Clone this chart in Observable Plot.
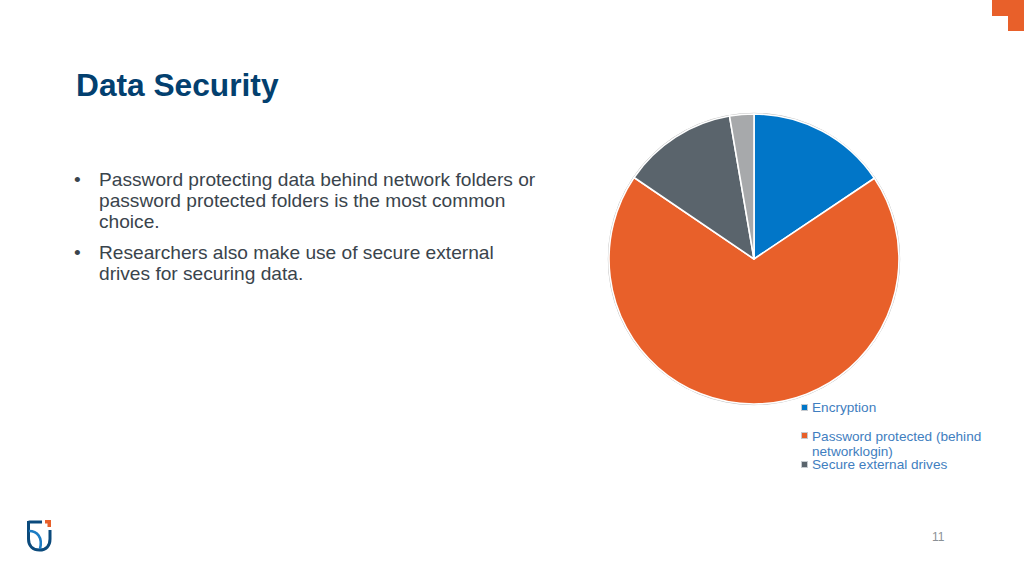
<!DOCTYPE html>
<html><head><meta charset="utf-8">
<script src="https://cdn.jsdelivr.net/npm/d3@7"></script>
<script src="https://cdn.jsdelivr.net/npm/@observablehq/plot@0.6"></script>
<style>
html,body{margin:0;padding:0;background:#fff;width:1024px;height:576px;overflow:hidden;font-family:"Liberation Sans",Arial,sans-serif}
.abs{position:absolute}
h1{position:absolute;left:76px;top:67px;margin:0;font-size:31.7px;line-height:37px;font-weight:700;color:#03406f}
.b{position:absolute;left:99px;width:460px;font-size:19.15px;line-height:21px;color:#3a444c}
.b:before{content:"•";position:absolute;left:-25px}
#plot{position:absolute;left:604px;top:109px;width:300px;height:300px}
.lg{position:absolute;left:812px;font-size:13.6px;line-height:15px;color:#3f7ec0;width:190px;white-space:pre-line}
.sw{position:absolute;left:801px;width:5px;height:5px;border:1.5px solid #c6cbd0}
</style></head><body>
<div class="abs" style="left:992px;top:0;width:32px;height:16px;background:#e8602a"></div>
<div class="abs" style="left:1008px;top:16px;width:16px;height:15px;background:#e8602a"></div>
<h1 id="title"></h1>
<div id="bullets"></div>
<div id="plot"></div>
<div id="legend"></div>
<svg class="abs" style="left:26px;top:519px" width="27" height="33" viewBox="0 0 27 33" fill="none">
<path d="M2.5 2V20C2.5 27 7 31 13.5 31C20 31 24 27 24 20V11" stroke="#0b4a7c" stroke-width="3"/>
<path d="M2.5 3H16" stroke="#0b4a7c" stroke-width="3"/>
<path d="M3 12C11 12 17 18 14 30" stroke="#1c7cc4" stroke-width="2.6"/>
<path d="M19 1H25V8H21.5V4.5H19Z" fill="#e8602a"/>
</svg>
<div class="abs" style="left:932px;top:530px;font-size:12px;line-height:14px;color:#8a9096">11</div>
<script>
const titleText = "Data Security";
const bulletLines = [
  "Password protecting data behind network folders or\npassword protected folders is the most common\nchoice.",
  "Researchers also make use of secure external\ndrives for securing data."
];
const bulletTops = [169, 242];
const categories = ["Encryption", "Password protected (behind\nnetworklogin)", "Secure external drives", "Other"];
const shares = [15.6, 68.9, 12.8, 2.7];
const colours = ["#0176c8", "#e8602a", "#5a646c", "#a7a9ab"];
const legendTops = [400, 428.5, 458.5];
const legendLeading = [15, 15, 12];
const rows = categories.map((category, i) => ({category, share: shares[i]}));

document.getElementById("title").textContent = titleText;
bulletLines.forEach((t, i) => {
  const d = document.createElement("div");
  d.className = "b"; d.style.top = bulletTops[i] + "px"; d.style.whiteSpace = "pre-line"; d.textContent = t;
  document.getElementById("bullets").append(d);
});
legendTops.forEach((top, i) => {
  const s = document.createElement("div");
  s.className = "sw"; s.style.top = [403.5, 431.5, 460.5][i] + "px"; s.style.background = colours[i];
  const l = document.createElement("div");
  l.className = "lg"; l.style.top = top + "px"; l.style.lineHeight = legendLeading[i] + "px"; l.textContent = categories[i];
  document.getElementById("legend").append(s, l);
});

const chart = Plot.plot({
  width: 300, height: 300, margin: 0,
  style: {background: "transparent"},
  color: {domain: categories, range: colours},
  marks: [
    Plot.cell(rows, {
      fill: "category",
      render(index, scales, values, dims) {
        const cx = dims.width / 2, cy = dims.height / 2, r = 145;
        const pie = d3.pie().sort(null).value(i => rows[i].share)(Array.from(index));
        const arc = d3.arc().innerRadius(0).outerRadius(r);
        const g = d3.create("svg:g").attr("transform", `translate(${cx},${cy})`);
        g.append("circle").attr("r", r + 0.7).attr("fill", "none").attr("stroke", "#bdbdbd").attr("stroke-width", 1);
        g.selectAll("path").data(pie).join("path")
          .attr("d", arc)
          .attr("fill", d => values.fill[d.data])
          .attr("stroke", "#fff").attr("stroke-width", 1.6).attr("stroke-linejoin", "round");
        return g.node();
      }
    })
  ]
});
document.getElementById("plot").append(chart);
</script>
</body></html>
